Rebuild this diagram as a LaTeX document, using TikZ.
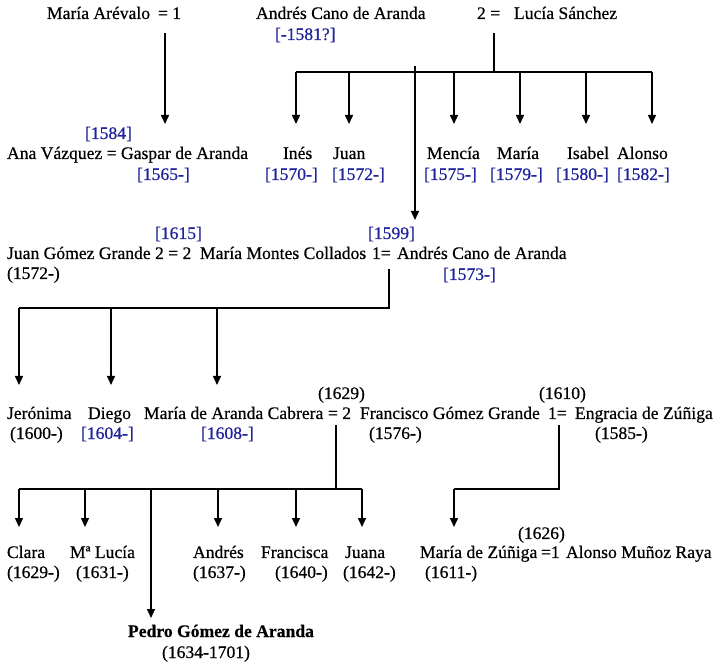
\documentclass[tikz,border=0pt]{standalone}
\usepackage{fontspec}
\setmainfont{Liberation Serif}[FakeBold=0.5]
\usetikzlibrary{arrows.meta}
\definecolor{dateblue}{RGB}{30,35,155}
\begin{document}
\begin{tikzpicture}[x=1pt,y=-1pt]
\tikzset{
  every node/.style={inner sep=0pt, outer sep=0pt, font=\fontsize{17.6}{21}\selectfont},
  nm/.style={anchor=base west},
  dt/.style={anchor=base west, text=dateblue},
  ln/.style={line width=1.5pt, line join=miter},
  arr/.style={ln, -{Triangle[width=8pt,length=9pt]}}
}
\fill[white] (0,0) rectangle (716,663);
\useasboundingbox (0,0) rectangle (716,663);

% Row 1
\node[nm] (ma) at (47,19) {María Arévalo};
\node[nm] (eqa) at (158,19) {= 1};
\node[nm] (acda) at (256,19) {Andrés Cano de Aranda};
\node[dt] (d1581) at (275,40) {[-1581?]};
\node[nm] (eqb) at (477,19) {2 =};
\node[nm] (ls) at (514,19) {Lucía Sánchez};

% Row 2
\node[dt] (d1584) at (85,139) {[1584]};
\node[nm] (avz) at (7,159) {Ana Vázquez = Gaspar de Aranda};
\node[dt] (d1565) at (137,180) {[1565-]};
\node[nm] (ines) at (283,159) {Inés};
\node[dt] (d1570) at (265,180) {[1570-]};
\node[nm] (juan) at (333,159) {Juan};
\node[dt] (d1572) at (332,180) {[1572-]};
\node[nm] (mencia) at (427,159) {Mencía};
\node[dt] (d1575) at (424,180) {[1575-]};
\node[nm] (maria) at (497,159) {María};
\node[dt] (d1579) at (490,180) {[1579-]};
\node[nm] (isabel) at (567,159) {Isabel};
\node[dt] (d1580) at (556,180) {[1580-]};
\node[nm] (alonso) at (617,159) {Alonso};
\node[dt] (d1582) at (617,180) {[1582-]};

% Row 3
\node[dt] (d1615) at (155,239) {[1615]};
\node[nm] (jgg) at (7,259) {Juan Gómez Grande 2 = 2};
\node[nm] (mmc) at (200,259) {María Montes Collados};
\node[nm] (jggd) at (7,279) {(1572-)};
\node[dt] (d1599) at (368,239) {[1599]};
\node[nm] (eqc) at (372,259) {1=};
\node[nm] (acd2) at (397,259) {Andrés Cano de Aranda};
\node[dt] (d1573) at (443,280) {[1573-]};

% Row 4
\node[nm] (d1629) at (318,399) {(1629)};
\node[nm] (d1610) at (539,399) {(1610)};
\node[nm] (jer) at (7,419) {Jerónima};
\node[nm] (d1600) at (10,439) {(1600-)};
\node[nm] (diego) at (88,419) {Diego};
\node[dt] (d1604) at (81,439) {[1604-]};
\node[nm] (madc) at (144,419) {María de Aranda Cabrera};
\node[dt] (d1608) at (201,439) {[1608-]};
\node[nm] (eqd) at (328,419) {= 2};
\node[nm] (fgg) at (360,419) {Francisco Gómez Grande};
\node[nm] (d1576) at (369,439) {(1576-)};
\node[nm] (eqe) at (548,419) {1=};
\node[nm] (edz) at (575,419) {Engracia de Zúñiga};
\node[nm] (d1585) at (595,439) {(1585-)};

% Row 5
\node[nm] (clara) at (7,558) {Clara};
\node[nm] (d1629b) at (7,578) {(1629-)};
\node[nm] (mlucia) at (70,558) {Mª Lucía};
\node[nm] (d1631) at (76,578) {(1631-)};
\node[nm] (andres) at (193,558) {Andrés};
\node[nm] (d1637) at (193,578) {(1637-)};
\node[nm] (francisca) at (261,558) {Francisca};
\node[nm] (d1640) at (275,578) {(1640-)};
\node[nm] (juana) at (345,558) {Juana};
\node[nm] (d1642) at (343,578) {(1642-)};
\node[nm] (d1626) at (518,539) {(1626)};
\node[nm] (mdz) at (420,558) {María de Zúñiga};
\node[nm] (eqf) at (541,558) {=1};
\node[nm] (amr) at (566,558) {Alonso Muñoz Raya};
\node[nm] (d1611) at (425,578) {(1611-)};
\node[nm, font=\fontsize{17.6}{21}\selectfont\bfseries] (pedro) at (128,637) {Pedro Gómez de Aranda};
\node[nm] (d1634) at (162,658) {(1634-1701)};

% Junction / end coordinates
\coordinate (a1s) at (165,33);  \coordinate (a1e) at (165,124);
\coordinate (ls0) at (494,33);  \coordinate (ls1) at (494,72);
\coordinate (hL) at (296,72);   \coordinate (hR) at (652,72);
\foreach \n/\x in {ines/296, juan/349, menc/454, mari/520, isab/586, alon/652}{
  \coordinate (t\n) at (\x,72); \coordinate (e\n) at (\x,124);
}
\coordinate (ac0) at (415,66);  \coordinate (ac1) at (415,220);

\coordinate (m1a) at (389,269); \coordinate (m1b) at (389,308); \coordinate (m1c) at (19,308);
\foreach \n/\x in {jer/19, die/111, mad/217}{
  \coordinate (t\n) at (\x,308); \coordinate (e\n) at (\x,385);
}

\coordinate (m2a) at (336,425); \coordinate (m2b) at (336,489);
\coordinate (m2L) at (19,489);  \coordinate (m2R) at (362,489);
\foreach \n/\x in {cla/19, luc/85, and/218, fra/296, jua/362}{
  \coordinate (t\n) at (\x,489); \coordinate (e\n) at (\x,527);
}
\coordinate (tped) at (151,489); \coordinate (eped) at (151,618);

\coordinate (m3a) at (559,425); \coordinate (m3b) at (559,489); \coordinate (m3c) at (454,489);
\coordinate (emdz) at (454,527);

% Connectors
\draw[arr] (a1s) -- (a1e);
\draw[ln] (ls0) -- (ls1);
\draw[ln] (hL) -- (hR);
\foreach \n in {ines, juan, menc, mari, isab, alon}{\draw[arr] (t\n) -- (e\n);}
\draw[arr] (ac0) -- (ac1);

\draw[ln] (m1a) -- (m1b) -- (m1c);
\foreach \n in {jer, die, mad}{\draw[arr] (t\n) -- (e\n);}

\draw[ln] (m2a) -- (m2b);
\draw[ln] (m2L) -- (m2R);
\foreach \n in {cla, luc, and, fra, jua}{\draw[arr] (t\n) -- (e\n);}
\draw[arr] (tped) -- (eped);

\draw[ln] (m3a) -- (m3b) -- (m3c);
\draw[arr] (m3c) -- (emdz);
\end{tikzpicture}
\end{document}
